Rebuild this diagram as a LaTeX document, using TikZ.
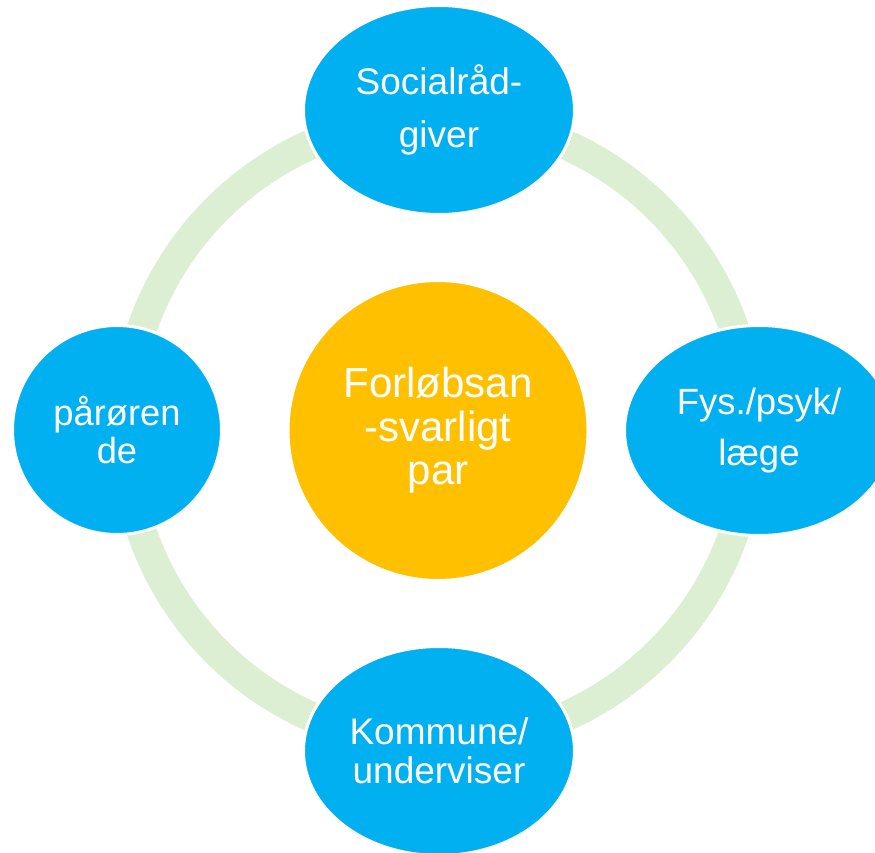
\documentclass[tikz,border=0pt]{standalone}
\usepackage{fontspec}
\setmainfont{Liberation Sans}
\usetikzlibrary{shapes.geometric}
\definecolor{nodeblue}{HTML}{00B0F0}
\definecolor{centerorange}{HTML}{FFC000}
\definecolor{ringgreen}{HTML}{DDEFD2}
\tikzset{
  bluebox/.style={ellipse, fill=nodeblue, draw=white, line width=3pt, inner sep=0pt, outer sep=0pt,
    text=white, align=center},
  centerbox/.style={circle, fill=centerorange, draw=white, line width=3pt, inner sep=0pt, outer sep=0pt,
    text=white, align=center, minimum size=300pt,
    font=\fontsize{42}{43.5}\selectfont},
  ring/.style={draw=ringgreen, line width=30pt}
}
\begin{document}
\begin{tikzpicture}[x=1pt,y=-1pt]
\useasboundingbox (0,0) rectangle (875,853);
\clip (0,0) rectangle (875,853);
\coordinate (mid) at (438,430.5);
\draw[ring] (mid) circle[radius=313];
\node[centerbox] (center) at (mid) {Forløbsan\\-svarligt\\par};
\node[bluebox, minimum width=271pt, minimum height=209pt,
  font=\fontsize{37}{53}\selectfont] (top) at (439,110) {Socialråd-\\giver};
\node[bluebox, minimum width=269pt, minimum height=210pt,
  font=\fontsize{36.5}{51}\selectfont] (right) at (759,430.5) {Fys./psyk/\\læge};
\node[bluebox, minimum width=271pt, minimum height=209pt,
  font=\fontsize{37}{39}\selectfont] (bottom) at (439,751) {Kommune/\\underviser};
\node[bluebox, minimum width=209pt, minimum height=209pt,
  font=\fontsize{36.3}{38}\selectfont] (left) at (117,430) {pårøren\\de};
\end{tikzpicture}
\end{document}
